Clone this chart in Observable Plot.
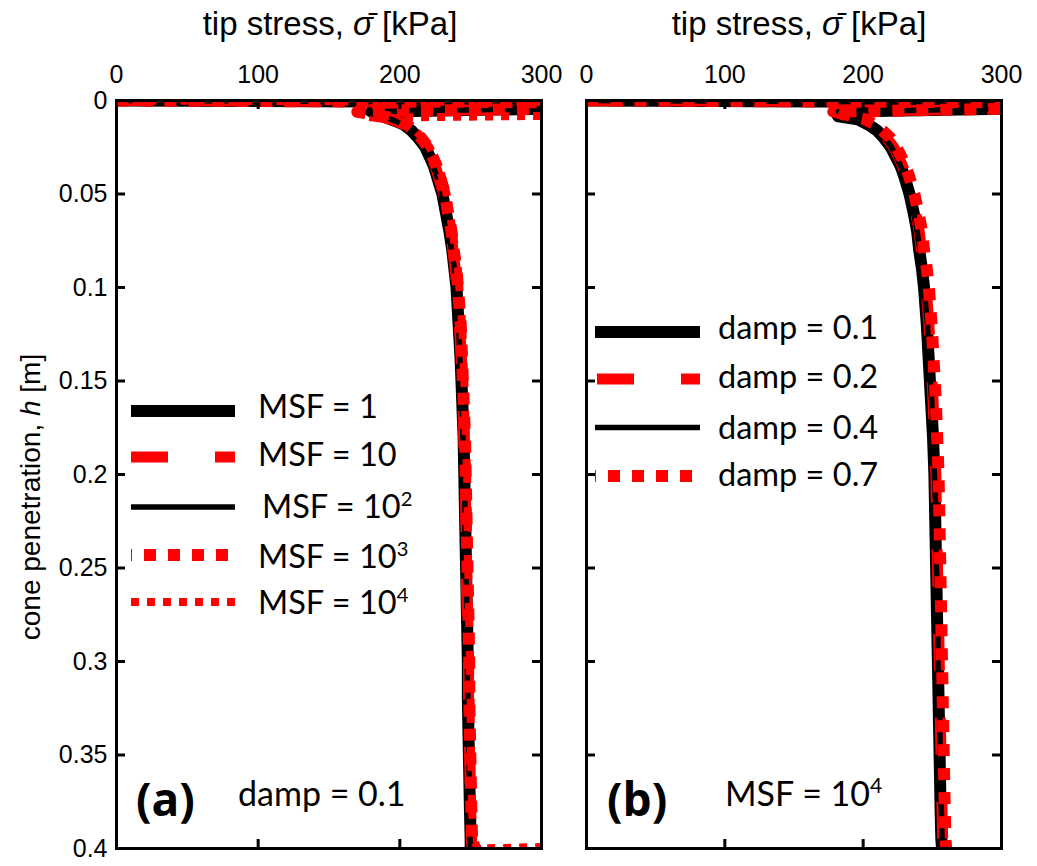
<!DOCTYPE html>
<html><head><meta charset="utf-8">
<script src="https://cdn.jsdelivr.net/npm/d3@7"></script>
<script src="https://cdn.jsdelivr.net/npm/@observablehq/plot@0.6"></script>
<style>
body{margin:0;background:#fff;}
#root{position:relative;width:1037px;height:866px;overflow:hidden;background:#fff;}
#root > svg{position:absolute;top:0;}
</style></head><body><div id="root"></div>
<script>
// ---------- axes ----------
const xTicks = [0, 100, 200, 300];
const xTickLabels = ["0", "100", "200", "300"];
const yTicks = [0, 0.05, 0.1, 0.15, 0.2, 0.25, 0.3, 0.35, 0.4];
const yTickLabels = ["0", "0.05", "0.1", "0.15", "0.2", "0.25", "0.3", "0.35", "0.4"];
const xInnerTicks = [100, 200];
const yInnerTicks = [0.05, 0.1, 0.15, 0.2, 0.25, 0.3, 0.35];

// ---------- panel (a): damp = 0.1, varying MSF ----------
const depthA = [0, 0.001, 0.004, 0.006, 0.008, 0.009, 0.011, 0.013, 0.016, 0.02, 0.025, 0.03, 0.035, 0.04, 0.05, 0.06, 0.07, 0.08, 0.09, 0.1, 0.12, 0.14, 0.16, 0.18, 0.2, 0.22, 0.24, 0.26, 0.28, 0.3, 0.32, 0.34, 0.36, 0.38, 0.395, 0.4];
const msf1    = [0, 340, 335, 180, 186, 190, 197, 203, 208, 213, 218, 221, 224, 226, 230, 232.5, 235, 237, 238.5, 240, 241.5, 243, 244, 245, 245.5, 246, 246.5, 247, 247.5, 248, 248, 248.5, 249, 249.5, 250, 250];
const msf10   = [0, 340, 330, 163, 178, 188, 197, 203, 209, 214, 219, 222, 225, 227, 231, 233, 235.5, 237.5, 239, 240.5, 242, 243.5, 244.5, 245, 246, 246.5, 247, 247, 248, 248.5, 248.5, 249, 249.5, 250, 250.5, 251];
const msf100  = [0, 340, 335, 175, 185, 190, 197, 202, 208, 212, 217, 221, 223.5, 226, 229.5, 232, 234.5, 236.5, 238.5, 239.5, 241.5, 242.5, 244, 244.5, 245.5, 246, 246, 247, 247.5, 247.5, 248, 248.5, 249, 249.5, 249.5, 250];
const msf1000 = [0, 340, 330, 170, 185, 192, 200, 205, 210, 215, 220, 223, 226, 228, 232, 234, 236.5, 238, 240, 241, 243, 244, 245, 246, 246.5, 247, 247.5, 248, 248.5, 249, 249, 249.5, 250, 250.5, 251, 251];
const msf10000 = [0, 340, 335, 332, 330, 205, 201, 206, 211, 216, 221, 224, 227, 229.5, 233, 235, 237.5, 239, 241, 242, 244, 245, 246, 246.5, 247.5, 248, 248, 248.5, 249, 249.5, 250, 250, 250.5, 251, 252, 255];
const msf10000TailDepth = [0.3985];
const msf10000TailStress = [340];
const msfNames = ["MSF = 1", "MSF = 10", "MSF = 10^2", "MSF = 10^3", "MSF = 10^4"];

// ---------- panel (b): MSF = 10^4, varying damp ----------
const depthB = [0, 0.001, 0.004, 0.006, 0.0085, 0.01, 0.013, 0.016, 0.02, 0.025, 0.03, 0.035, 0.04, 0.05, 0.06, 0.07, 0.08, 0.09, 0.1, 0.12, 0.14, 0.16, 0.18, 0.2, 0.22, 0.24, 0.26, 0.28, 0.3, 0.32, 0.34, 0.36, 0.38, 0.395, 0.4];
const damp01 = [0, 340, 335, 180, 182, 196, 204, 210, 215, 220, 223.5, 227, 229.5, 233.5, 236.5, 239, 240.5, 242.5, 244, 246, 247.5, 249, 250.5, 251.5, 252, 252.5, 253, 253.5, 254, 254.5, 255, 255.5, 256, 256.5, 257];
const damp02 = [0, 340, 330, 178, 190, 199, 206, 212, 217, 222, 225.5, 228.5, 231, 235, 238, 240.5, 242, 244, 245.5, 247.5, 249, 250.5, 251.5, 252.5, 253, 253.5, 254, 254.5, 255, 255.5, 256, 256.5, 257, 257.5, 258];
const damp04 = [0, 340, 335, 182, 186, 196, 205, 210.5, 215.5, 220.5, 224, 227, 230, 234, 236.5, 239, 241, 242.5, 244, 246.5, 247.5, 249.5, 250.5, 251.5, 252.5, 252.5, 253.5, 254, 254, 255, 255.5, 255.5, 256.5, 257, 257];
const damp07 = [0, 340, 330, 180, 192, 201, 209, 214, 219.5, 224, 227.5, 230.5, 233, 237, 240, 242.5, 244, 246, 247.5, 249.5, 251, 252.5, 253.5, 254.5, 255, 255.5, 256, 256.5, 257, 257.5, 258, 258.5, 259, 259.5, 260];
const dampNames = ["damp = 0.1", "damp = 0.2", "damp = 0.4", "damp = 0.7"];

// ---------- styles ----------
const lineStyles = [
  {stroke: "#000", strokeWidth: 12, strokeLinecap: "butt"},
  {stroke: "#f00", strokeWidth: 11, strokeDasharray: "37,47", strokeLinecap: "butt"},
  {stroke: "#000", strokeWidth: 5.5, strokeLinecap: "butt"},
  {stroke: "#f00", strokeWidth: 12, strokeDasharray: "12,12", strokeLinecap: "butt"},
  {stroke: "#f00", strokeWidth: 8, strokeDasharray: "8,8", strokeLinecap: "butt"}
];

function rows(depth, stress, tailDepth = [], tailStress = []) {
  return depth.map((h, i) => ({h, s: stress[i]}))
    .concat(tailDepth.map((h, i) => ({h, s: tailStress[i]})));
}

const seriesA = [
  rows(depthA, msf1), rows(depthA, msf10), rows(depthA, msf100), rows(depthA, msf1000),
  rows(depthA, msf10000, msf10000TailDepth, msf10000TailStress)
];
const seriesB = [rows(depthB, damp01), rows(depthB, damp02), rows(depthB, damp04), rows(depthB, damp07)];

const H = 866, MT = 100, MB = 18;
const tickLen = 9;
const font = "'Liberation Sans', Arial, sans-serif";

function panel(series, {width, ml, mr, yLabels}) {
  const fw = width - ml - mr, fh = H - MT - MB;
  const marks = series.map((data, i) =>
    Plot.line(data, {x: "s", y: "h", clip: true, strokeLinejoin: "round", ...lineStyles[i]}));
  marks.push(
    Plot.frame({stroke: "#000", strokeWidth: 3}),
    Plot.tickX(xInnerTicks, {x: d => d, stroke: "#000", strokeWidth: 3, insetBottom: fh - tickLen}),
    Plot.tickX(xInnerTicks, {x: d => d, stroke: "#000", strokeWidth: 3, insetTop: fh - tickLen}),
    Plot.tickY(yInnerTicks, {y: d => d, stroke: "#000", strokeWidth: 3, insetRight: fw - tickLen}),
    Plot.tickY(yInnerTicks, {y: d => d, stroke: "#000", strokeWidth: 3, insetLeft: fw - tickLen}),
    Plot.axisX({anchor: "top", ticks: xTicks, tickSize: 0, tickPadding: 18, label: null,
      tickFormat: d => xTickLabels[xTicks.indexOf(d)]})
  );
  if (yLabels) marks.push(Plot.axisY({anchor: "left", ticks: yTicks, tickSize: 0, tickPadding: 9, label: null,
      tickFormat: d => yTickLabels[yTicks.indexOf(d)]}));
  return Plot.plot({
    width, height: H, marginLeft: ml, marginRight: mr, marginTop: MT, marginBottom: MB,
    x: {domain: [0, 300], axis: null},
    y: {domain: [0, 0.4], reverse: true, axis: null},
    style: {fontFamily: font, fontSize: "25px", color: "#000", background: "transparent", overflow: "visible"},
    marks
  });
}

const root = document.getElementById("root");
const pa = panel(seriesA, {width: 565, ml: 116, mr: 24, yLabels: true});
pa.style.left = "0px";
const pb = panel(seriesB, {width: 472, ml: 21, mr: 36, yLabels: false});
pb.style.left = "565px";
root.append(pa, pb);

// ---------- overlay: titles, legends, annotations ----------
const ov = d3.create("svg").attr("width", 1037).attr("height", 866)
  .style("left", "0px").style("overflow", "visible");
const lfont = "Lato, 'Open Sans', sans-serif";

function title(cx) {
  const t = ov.append("text").attr("x", cx).attr("y", 35).attr("text-anchor", "middle")
    .attr("font-family", font).attr("font-size", 33);
  t.append("tspan").text("tip stress, ");
  t.append("tspan").attr("font-style", "italic").text("σ\u0304");
  t.append("tspan").text(" [kPa]");
}
title(330); title(799);

const yl = ov.append("text").attr("transform", "translate(40,497) rotate(-90)")
  .attr("text-anchor", "middle").attr("font-family", font).attr("font-size", 28);
yl.append("tspan").text("cone penetration,  ");
yl.append("tspan").attr("font-style", "italic").text("h");
yl.append("tspan").text(" [m]");

function label(x, y, name, size, extra, fam) {
  const t = ov.append("text").attr("x", x).attr("y", y).attr("font-family", fam || lfont).attr("font-size", size);
  if (extra) extra(t);
  const m = name.split("^");
  t.append("tspan").text(m[0]);
  if (m[1]) t.append("tspan").attr("font-size", size * 0.62).attr("dy", -size * 0.38).text(m[1]);
  return t;
}

// legend (a)
const legA = {x1: 131, x2: 235, ys: [411, 457, 507, 555, 602], tx: [258, 258, 262, 258, 258], tys: [418, 466, 518, 568, 614]};
const dashOffsetsA = [0, 0, 0, 11, 0];
msfNames.forEach((n, i) => {
  const st = lineStyles[i];
  ov.append("line").attr("x1", legA.x1).attr("x2", legA.x2).attr("y1", legA.ys[i]).attr("y2", legA.ys[i])
    .attr("stroke", st.stroke).attr("stroke-width", st.strokeWidth)
    .attr("stroke-dasharray", st.strokeDasharray || null).attr("stroke-dashoffset", dashOffsetsA[i]);
  label(legA.tx[i], legA.tys[i], n, 32.5);
});
// legend (b)
const legB = {x1: 595, x2: 700, ys: [332, 379, 427.5, 476], tx: 718, tys: [339, 388, 439, 486]};
const dashOffsetsB = [0, -2, 0, 11];
dampNames.forEach((n, i) => {
  const st = lineStyles[i];
  ov.append("line").attr("x1", legB.x1).attr("x2", legB.x2).attr("y1", legB.ys[i]).attr("y2", legB.ys[i])
    .attr("stroke", st.stroke).attr("stroke-width", st.strokeWidth)
    .attr("stroke-dasharray", st.strokeDasharray || null).attr("stroke-dashoffset", dashOffsetsB[i]);
  label(legB.tx, legB.tys[i], n, 32.5);
});

// panel annotations
const bold = t => t.attr("font-weight", "bold");
label(136, 816, "(a)", 46, bold, "'Open Sans', Lato, sans-serif");
label(238, 806, "damp = 0.1", 34);
label(607, 816, "(b)", 46, bold, "'Open Sans', Lato, sans-serif");
label(725, 806, "MSF = 10^4", 34);

root.append(ov.node());
</script></body></html>
